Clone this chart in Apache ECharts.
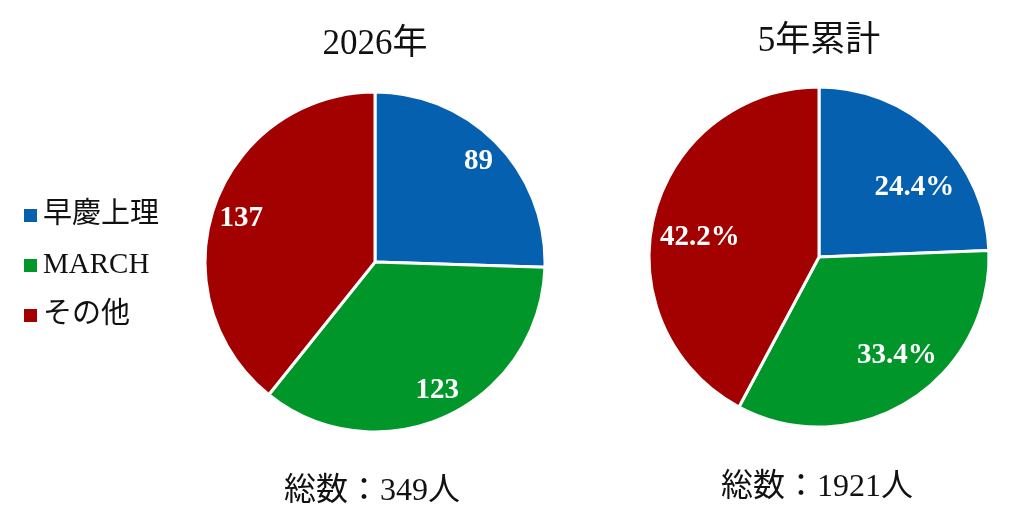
<!DOCTYPE html>
<html><head><meta charset="utf-8">
<script src="https://cdn.jsdelivr.net/npm/echarts@6/dist/echarts.min.js"></script>
<style>html,body{margin:0;padding:0;background:#fff}#c{width:1024px;height:532px}</style>
</head><body><div id="c"></div>
<script>
const categories = ['早慶上理', 'MARCH', 'その他'];
const values2026 = [89, 123, 137];
const share5yr = [24.4, 33.4, 42.2];
const total5yr = 1921;
const titles = ['2026年', '5年累計'];
const colors = ['#0560B0', '#00962A', '#A30000'];

const FONT = '"Liberation Serif", "Times New Roman", "Noto Sans CJK JP", serif';
const total2026 = values2026.reduce((a, b) => a + b, 0);
// small label nudges (style only)
const nudgeLeft = [[0, 0], [2, -2], [2, 4]];
const nudgeRight = [[8, 21], [11, -8], [3, 11]];

const chart = echarts.init(document.getElementById('c'));
const mk = (vals) => vals.map((v, i) => ({ name: categories[i], value: v }));
const mkL = (vals, nudge) => vals.map((v, i) => ({ name: categories[i], value: v, label: { offset: nudge[i] } }));

function basePie(center, data) {
  return {
    type: 'pie', center: center, radius: 170, startAngle: 90, clockwise: true,
    data: data, silent: true, animation: false,
    itemStyle: { borderColor: '#fff', borderWidth: 3 },
    label: { show: false }, labelLine: { show: false }
  };
}
function labelRing(center, data, r0, fmt) {
  return {
    type: 'pie', center: center, radius: [r0, 170], startAngle: 90, clockwise: true,
    data: data, silent: true, animation: false, legendHoverLink: false,
    itemStyle: { color: 'rgba(0,0,0,0)', borderWidth: 0 },
    label: { show: true, position: 'inside', formatter: fmt, color: '#fff',
             fontFamily: FONT, fontWeight: 'bold', fontSize: 29 },
    labelLine: { show: false }, emphasis: { disabled: true }
  };
}

chart.setOption({
  backgroundColor: '#fff',
  color: colors,
  legend: {
    orient: 'vertical', left: 17, top: 196, itemWidth: 15, itemHeight: 15,
    itemGap: 21, icon: 'rect', data: categories,
    textStyle: { fontFamily: FONT, fontSize: 29, color: '#111' }
  },
  graphic: [
    { type: 'text', x: 375, y: 45, style: { text: titles[0], textAlign: 'center', textVerticalAlign: 'middle', font: '35px ' + FONT, fill: '#111' } },
    { type: 'text', x: 819, y: 42, style: { text: titles[1], textAlign: 'center', textVerticalAlign: 'middle', font: '35px ' + FONT, fill: '#111' } },
    { type: 'text', x: 372, y: 492, style: { text: '総数：' + total2026 + '人', textAlign: 'center', textVerticalAlign: 'middle', font: '32px ' + FONT, fill: '#111' } },
    { type: 'text', x: 817, y: 488, style: { text: '総数：' + total5yr + '人', textAlign: 'center', textVerticalAlign: 'middle', font: '32px ' + FONT, fill: '#111' } }
  ],
  series: [
    basePie([375, 262], mk(values2026)),
    basePie([819, 257], mk(share5yr)),
    labelRing([375, 262], mkL(values2026, nudgeLeft), 112, p => String(p.value)),
    labelRing([819, 257], mkL(share5yr, nudgeRight), 76, p => p.value.toFixed(1) + '%')
  ]
});
</script></body></html>
